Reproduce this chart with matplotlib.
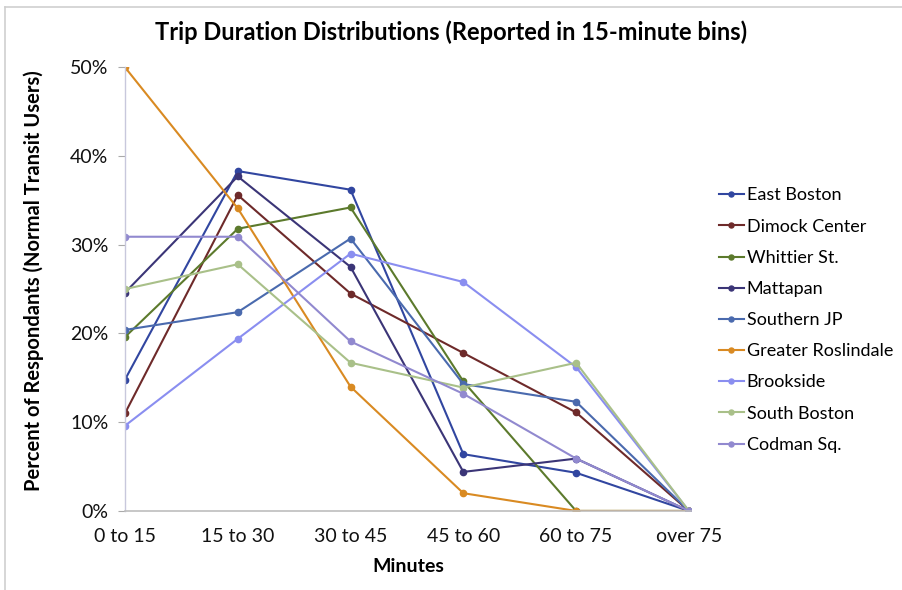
import matplotlib
matplotlib.use("Agg")
import matplotlib.pyplot as plt
from matplotlib.lines import Line2D
from matplotlib.ticker import FuncFormatter

categories = ["0 to 15", "15 to 30", "30 to 45", "45 to 60", "60 to 75", "over 75"]

east_boston = [14.8, 38.3, 36.2, 6.4, 4.3, 0.0]
dimock_center = [11.0, 35.6, 24.5, 17.8, 11.1, 0.0]
whittier_st = [19.6, 31.8, 34.2, 14.6, 0.0, 0.0]
mattapan = [24.6, 37.7, 27.5, 4.4, 5.9, 0.0]
southern_jp = [20.4, 22.4, 30.7, 14.3, 12.3, 0.0]
greater_roslindale = [50.0, 34.1, 14.0, 2.0, 0.0, 0.0]
brookside = [9.6, 19.4, 29.0, 25.8, 16.2, 0.0]
south_boston = [25.0, 27.8, 16.7, 13.9, 16.7, 0.0]
codman_sq = [30.9, 30.9, 19.1, 13.2, 5.9, 0.0]

series_names = ["East Boston", "Dimock Center", "Whittier St.", "Mattapan", "Southern JP",
                "Greater Roslindale", "Brookside", "South Boston", "Codman Sq."]
series_values = [east_boston, dimock_center, whittier_st, mattapan, southern_jp,
                 greater_roslindale, brookside, south_boston, codman_sq]
colors = ["#3146a0", "#6e2a2a", "#5c7a2c", "#3b3577", "#4a6aae",
          "#d98a22", "#8a8ef0", "#a9c089", "#9189cf"]

fam = ["Lato", "DejaVu Sans"]

fig = plt.figure(figsize=(9.03, 5.90), dpi=100)
ax = fig.add_axes([0.1384, 0.134, 0.627, 0.752])

x = list(range(len(categories)))
for name, vals, c in zip(series_names, series_values, colors):
    ax.plot(x, vals, color=c, lw=1.5, marker="o", markersize=4.5, label=name)

ax.set_xlim(0, 5.02)
ax.set_ylim(0, 50)
ax.set_yticks([0, 10, 20, 30, 40, 50])
ax.yaxis.set_major_formatter(FuncFormatter(lambda v, p: f"{int(v)}%"))
ax.set_xticks(x)
ax.set_xticklabels(categories)

for sp in ["top", "right"]:
    ax.spines[sp].set_visible(False)
ax.spines["left"].set_color("#c8c8dc")
ax.spines["bottom"].set_color("#bdbdbd")
ax.spines["left"].set_linewidth(1.0)
ax.spines["bottom"].set_linewidth(1.2)
ax.tick_params(axis="y", length=5, color="#aaaaaa", pad=7)
ax.tick_params(axis="x", length=0, pad=12)
for lab in ax.get_xticklabels() + ax.get_yticklabels():
    lab.set_fontfamily(fam)
    lab.set_fontsize(14)
    lab.set_color("#111111")

ax.set_xlabel("Minutes", fontsize=14, fontweight="bold", family=fam, labelpad=10)
ax.set_ylabel("Percent of Respondants (Normal Transit Users)", fontsize=14.5,
              fontweight="bold", family=fam, labelpad=19)
ax.yaxis.set_label_coords(-0.1435, 0.52)
fig.text(0.5, 0.945, "Trip Duration Distributions (Reported in 15-minute bins)",
         ha="center", va="center", fontsize=17, fontweight="bold", family=fam)

leg = ax.legend(loc="center left", bbox_to_anchor=(1.02, 0.43), frameon=False,
                prop={"family": fam, "size": 13}, handlelength=1.4,
                handletextpad=0.15, labelspacing=0.84, markerscale=0.8)

fig.add_artist(Line2D([0.006, 1.0], [0.988, 0.988], color="#cfcfcf", lw=1.2,
                      transform=fig.transFigure))
fig.add_artist(Line2D([0.006, 0.006], [0.0, 0.988], color="#cfcfcf", lw=1.2,
                      transform=fig.transFigure))

fig.savefig("out.png", dpi=100)
